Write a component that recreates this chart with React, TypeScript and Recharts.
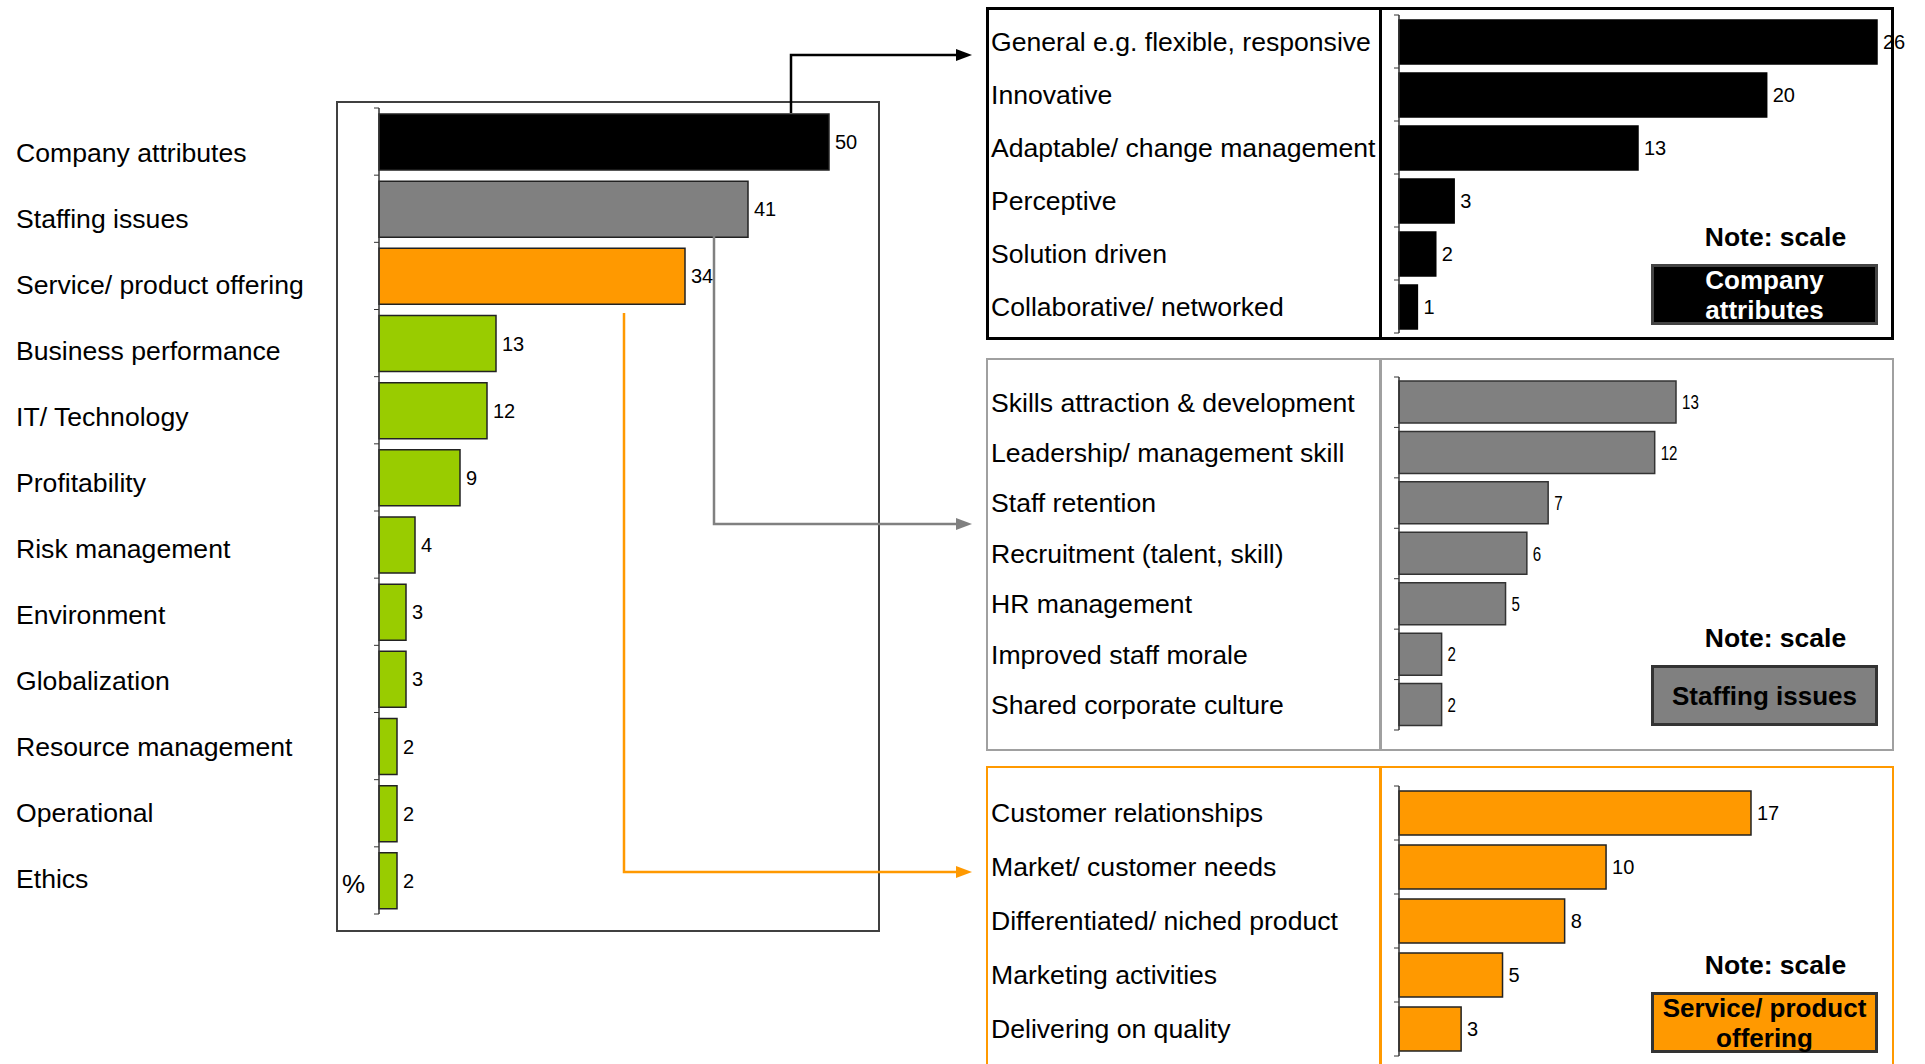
import { BarChart, Bar, XAxis, YAxis, Cell, LabelList } from 'recharts'

const FONT = '"Liberation Sans", Arial, sans-serif'
const BLACK = '#000000'
const GREY = '#808080'
const ORANGE = '#FF9900'
const GREEN = '#99CC00'

const mainCategories = [
  'Company attributes',
  'Staffing issues',
  'Service/ product offering',
  'Business performance',
  'IT/ Technology',
  'Profitability',
  'Risk management',
  'Environment',
  'Globalization',
  'Resource management',
  'Operational',
  'Ethics',
]
const mainValues = [50, 41, 34, 13, 12, 9, 4, 3, 3, 2, 2, 2]
const mainColors = mainCategories.map((_, i) => (i === 0 ? BLACK : i === 1 ? GREY : i === 2 ? ORANGE : GREEN))

const companyLabels = [
  'General e.g. flexible, responsive',
  'Innovative',
  'Adaptable/ change management',
  'Perceptive',
  'Solution driven',
  'Collaborative/ networked',
]
const companyValues = [26, 20, 13, 3, 2, 1]

const staffingLabels = [
  'Skills attraction & development',
  'Leadership/ management skill',
  'Staff retention',
  'Recruitment (talent, skill)',
  'HR management',
  'Improved staff morale',
  'Shared corporate culture',
]
const staffingValues = [13, 12, 7, 6, 5, 2, 2]

const serviceLabels = [
  'Customer relationships',
  'Market/ customer needs',
  'Differentiated/ niched product',
  'Marketing activities',
  'Delivering on quality',
]
const serviceValues = [17, 10, 8, 5, 3]

interface TickCfg {
  labelX: number
  axisX: number
  band: number
  count: number
  fontSize: number
  shift: (i: number) => number
}

function CategoryTick(props: any) {
  const { y, payload, index, cfg } = props as { y: number; payload: any; index: number; cfg: TickCfg }
  const top = y - cfg.band / 2
  return (
    <g>
      <text x={cfg.labelX} y={y + cfg.shift(index)} dy="0.35em" fontSize={cfg.fontSize} fill="#000" fontFamily={FONT}>
        {payload.value}
      </text>
      <line x1={cfg.axisX - 5} x2={cfg.axisX} y1={top} y2={top} stroke="#333" />
      {index === cfg.count - 1 && (
        <line x1={cfg.axisX - 5} x2={cfg.axisX} y1={y + cfg.band / 2} y2={y + cfg.band / 2} stroke="#333" />
      )}
    </g>
  )
}

// value text at the bar end, optionally squeezed horizontally
function ValueLabel(props: any) {
  const { x, y, width, height, value, fontSize, squeeze } = props
  const tx = Number(x) + Number(width) + 6
  const ty = Number(y) + Number(height) / 2
  return (
    <text
      transform={`translate(${tx},${ty}) scale(${squeeze},1)`}
      dy="0.35em"
      fontSize={fontSize}
      fill="#000"
      fontFamily={FONT}
    >
      {value}
    </text>
  )
}

interface HBarProps {
  labels: string[]
  values: number[]
  colors: string[]
  left: number
  top: number
  width: number
  height: number
  axisWidth: number
  plotWidth: number
  marginTop: number
  marginBottom: number
  barSize: number
  labelX: number
  valueFont: number
  squeeze?: number
  stroke: string
  shift?: (i: number) => number
}

function HBar(p: HBarProps) {
  const data = p.labels.map((name, i) => ({ name, value: p.values[i] }))
  const band = (p.height - p.marginTop - p.marginBottom) / p.labels.length
  const max = Math.max(...p.values)
  const cfg: TickCfg = {
    labelX: p.labelX,
    axisX: p.axisWidth,
    band,
    count: p.labels.length,
    fontSize: 26.6,
    shift: p.shift ?? (() => 0),
  }
  return (
    <div style={{ position: 'absolute', left: p.left, top: p.top }}>
      <BarChart
        layout="vertical"
        width={p.width}
        height={p.height}
        data={data}
        margin={{ top: p.marginTop, bottom: p.marginBottom, left: 0, right: p.width - p.axisWidth - p.plotWidth }}
      >
        <XAxis type="number" hide domain={[0, max]} />
        <YAxis
          type="category"
          dataKey="name"
          width={p.axisWidth}
          interval={0}
          tickLine={false}
          axisLine={{ stroke: '#333', strokeWidth: 1.5 }}
          tick={(t: any) => <CategoryTick {...t} cfg={cfg} />}
        />
        <Bar dataKey="value" barSize={p.barSize} isAnimationActive={false} stroke={p.stroke} strokeWidth={1.5}>
          {data.map((_, i) => (
            <Cell key={i} fill={p.colors[i % p.colors.length]} />
          ))}
          <LabelList
            dataKey="value"
            content={(l: any) => <ValueLabel {...l} fontSize={p.valueFont} squeeze={p.squeeze ?? 1} />}
          />
        </Bar>
      </BarChart>
    </div>
  )
}

function NoteBox({ top, fill, color, border, lines }: { top: number; fill: string; color: string; border: string; lines: string[] }) {
  return (
    <>
      <div
        style={{
          position: 'absolute',
          left: 1662,
          top: top - 42,
          width: 227,
          textAlign: 'center',
          fontWeight: 'bold',
          fontSize: 26.5,
          lineHeight: '30px',
        }}
      >
        Note: scale
      </div>
      <div
        style={{
          position: 'absolute',
          left: 1651,
          top,
          width: 227,
          height: 61,
          boxSizing: 'border-box',
          background: fill,
          border: `3px solid ${border}`,
          color,
          fontWeight: 'bold',
          fontSize: 26,
          lineHeight: '30px',
          textAlign: 'center',
          display: 'flex',
          flexDirection: 'column',
          justifyContent: 'center',
        }}
      >
        {lines.map((l) => (
          <div key={l}>{l}</div>
        ))}
      </div>
    </>
  )
}

function Panel({ top, height, border, borderWidth }: { top: number; height: number; border: string; borderWidth: number }) {
  return (
    <>
      <div
        style={{
          position: 'absolute',
          left: 986,
          top,
          width: 908,
          height,
          boxSizing: 'border-box',
          border: `${borderWidth}px solid ${border}`,
        }}
      />
      <div style={{ position: 'absolute', left: 1379, top, width: borderWidth, height, background: border }} />
    </>
  )
}

export default function App() {
  return (
    <div
      style={{
        position: 'absolute',
        left: 0,
        top: 0,
        width: 1925,
        height: 1064,
        overflow: 'hidden',
        background: '#fff',
        fontFamily: FONT,
        color: '#000',
      }}
    >
      {/* frame around the overview bars */}
      <div
        style={{
          position: 'absolute',
          left: 336,
          top: 101,
          width: 544,
          height: 831,
          boxSizing: 'border-box',
          border: '2.5px solid #404040',
        }}
      />
      <div style={{ position: 'absolute', left: 342, top: 868, fontSize: 26, lineHeight: '32px' }}>%</div>

      <HBar
        labels={mainCategories}
        values={mainValues}
        colors={mainColors}
        left={0}
        top={0}
        width={900}
        height={940}
        axisWidth={379}
        plotWidth={450}
        marginTop={108}
        marginBottom={26}
        barSize={56}
        labelX={16}
        valueFont={20}
        stroke="#222"
        shift={(i) => 11 - i * 1.2}
      />

      <Panel top={7} height={333} border="#000" borderWidth={3} />
      <HBar
        labels={companyLabels}
        values={companyValues}
        colors={[BLACK]}
        left={986}
        top={7}
        width={939}
        height={333}
        axisWidth={413}
        plotWidth={478}
        marginTop={8}
        marginBottom={7}
        barSize={44}
        labelX={5}
        valueFont={20}
        stroke={BLACK}
      />
      <NoteBox top={264} fill={BLACK} color="#fff" border="#444" lines={['Company', 'attributes']} />

      <Panel top={358} height={393} border="#a0a0a0" borderWidth={2.5} />
      <HBar
        labels={staffingLabels}
        values={staffingValues}
        colors={[GREY]}
        left={986}
        top={358}
        width={908}
        height={393}
        axisWidth={413}
        plotWidth={277}
        marginTop={19}
        marginBottom={21}
        barSize={42}
        labelX={5}
        valueFont={21}
        squeeze={0.72}
        stroke="#333"
      />
      <NoteBox top={665} fill={GREY} color="#000" border="#333" lines={['Staffing issues']} />

      <Panel top={766} height={320} border={ORANGE} borderWidth={2.5} />
      <HBar
        labels={serviceLabels}
        values={serviceValues}
        colors={[ORANGE]}
        left={986}
        top={766}
        width={908}
        height={298}
        axisWidth={413}
        plotWidth={352}
        marginTop={20}
        marginBottom={8}
        barSize={44}
        labelX={5}
        valueFont={20}
        stroke="#222"
      />
      <NoteBox top={992} fill={ORANGE} color="#000" border="#333" lines={['Service/ product', 'offering']} />

      {/* connectors from the overview bars to the breakdown panels */}
      <svg width={1925} height={1064} style={{ position: 'absolute', left: 0, top: 0, pointerEvents: 'none' }}>
        <path d="M791 113 V55 H958" fill="none" stroke={BLACK} strokeWidth={2.5} />
        <polygon points="972,55 956,49 956,61" fill={BLACK} />
        <path d="M714 236 V524 H958" fill="none" stroke={GREY} strokeWidth={2.5} />
        <polygon points="972,524 956,518 956,530" fill={GREY} />
        <path d="M624 313 V872 H958" fill="none" stroke={ORANGE} strokeWidth={2.5} />
        <polygon points="972,872 956,866 956,878" fill={ORANGE} />
      </svg>
    </div>
  )
}
